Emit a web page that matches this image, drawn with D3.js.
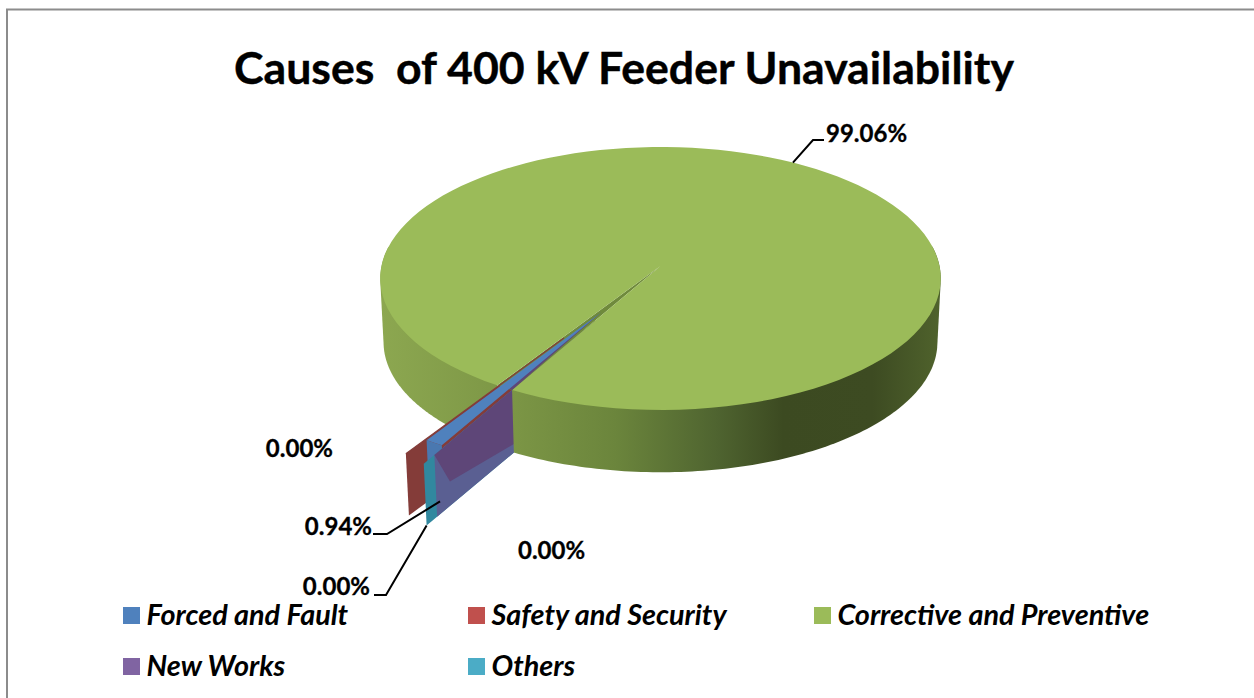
<!DOCTYPE html>
<html>
<head>
<meta charset="utf-8">
<script src="https://cdn.jsdelivr.net/npm/d3@7/dist/d3.min.js"></script>
<style>
html,body{margin:0;padding:0;background:#fff;overflow:hidden}
svg{display:block}
text{font-family:Lato,Carlito,Calibri,sans-serif;fill:#000;white-space:pre}
</style>
</head>
<body>
<div id="chart"></div>
<script>
// ---- data ----
const chartTitle = "Causes  of 400 kV Feeder Unavailability";
const causes = ["Forced and Fault", "Safety and Security", "Corrective and Preventive", "New Works", "Others"];
const shares = [0.94, 0, 99.06, 0, 0];
const colors = ["#4f81bd", "#c0504d", "#9bbb59", "#8064a2", "#4bacc6"];
const wallColors = ["#4a78b0", "#843c39", "#7b9444", "#5a5f92", "#31889f"];
const explode = [0.40, 0.50, 0, 0.46, 0.52];

// ---- layout ----
const W = 1254, H = 698;
const cx = 660.5, cy = 266, rx = 279, ry = 130.3, persp = 0.095, depth = 64, shrink = 0.012;
const rotation = 209.2 * Math.PI / 180;

const svg = d3.select("#chart").append("svg").attr("width", W).attr("height", H);
const defs = svg.append("defs");

const slices = d3.pie().value(d => d).sort(null)
  .startAngle(rotation).endAngle(rotation + 2 * Math.PI)(shares);

// project pie coordinates (radius, angle, explosion, height) on the screen
function project(r, a, e = 0, em = a, z = 0) {
  const u = r * Math.sin(a) + e * Math.sin(em);
  const v = -r * Math.cos(a) - e * Math.cos(em);
  const w = 1 - persp * v, s = 1 - shrink * z;
  return [cx + rx * u / w * s, cy + ry * v / w * s + depth * z];
}
const line = d3.line();
const arcAngles = (a0, a1) => d3.range(0, 121).map(i => a0 + (a1 - a0) * i / 120);
const poly = (pts, fill) => svg.append("path").attr("d", line(pts) + "Z").attr("fill", fill);

const [forced, safety, main, newWorks, others] = slices;
const fMid = (forced.startAngle + forced.endAngle) / 2;
// the safety wall is pushed out slightly toward the forced slice
const safetyDir = fMid + 0.6 * (safety.startAngle - fMid);

// green side wall with horizontal shading
const grad = defs.append("linearGradient").attr("id", "wallGrad")
  .attr("gradientUnits", "userSpaceOnUse")
  .attr("x1", cx - rx).attr("x2", cx + rx).attr("y1", 0).attr("y2", 0);
[[0, "#8ca750"], [0.22, "#7d9746"], [0.42, "#6b853c"], [0.6, "#4f6430"], [0.72, "#3c4a21"],
 [0.88, "#3d4b22"], [1, "#4f622c"]].forEach(s =>
  grad.append("stop").attr("offset", s[0]).attr("stop-color", s[1]));

function sideWall(a0, a1) {
  const as = arcAngles(a0, a1);
  const pts = as.map(a => project(1, a, 0, a, 0)).concat(as.map(a => project(1, a, 0, a, 1)));
  poly(d3.polygonHull(pts), "url(#wallGrad)");
}
const quarter = Math.PI / 2;
sideWall(main.startAngle, 3 * quarter + 0.15);        // left part of the rim

// radial wall of a zero-size exploded slice
const wall = (sl, i, dir = sl.startAngle) => poly([
  project(0, sl.startAngle, explode[i], dir, 0),
  project(1, sl.startAngle, explode[i], dir, 0),
  project(1, sl.startAngle, explode[i], dir, 1),
  project(0, sl.startAngle, explode[i], dir, 1)
], wallColors[i]);

wall(safety, 1, safetyDir);

// outer wall of the forced slice
{
  const as = arcAngles(forced.startAngle, forced.endAngle);
  poly(as.map(a => project(1, a, explode[0], fMid, 0))
    .concat(as.slice().reverse().map(a => project(1, a, explode[0], fMid, 1))), wallColors[0]);
}
wall(others, 4);
wall(newWorks, 3);

// darker overlap on the new-works wall
{
  const a = newWorks.startAngle, e = explode[3];
  poly([
    project(1, a, e, a, 0),
    project(0.92, a, e, a, 0.62),
    project(0.45, a, e, a, 0.92),
    project(0, a, e, a, 0.9),
    project(0, a, e, a, 0)
  ], "#5e4678");
}

sideWall(quarter - 0.15, forced.startAngle);          // right part of the rim

// gap in the green top
poly([project(0, 0)].concat(arcAngles(forced.startAngle, forced.endAngle).map(a => project(1, a))), "#6f8a3c");

// green top
poly([project(0, 0)].concat(arcAngles(main.startAngle, main.endAngle).map(a => project(1, a))), colors[2]);

// purple sliver seen through the gap
poly([project(0, fMid, explode[0], fMid), project(1, forced.startAngle), project(1, fMid)], "#5e4678");

// red sliver: the top edge of the safety wall
svg.append("path")
  .attr("d", line([project(0.12, safety.startAngle, explode[1], safetyDir),
                   project(1, safety.startAngle, explode[1], safetyDir)]))
  .attr("stroke", wallColors[1]).attr("stroke-width", 1.2).attr("fill", "none");

// blue exploded top
poly([project(0, fMid, explode[0], fMid)]
  .concat(arcAngles(forced.startAngle, forced.endAngle).map(a => project(1, a, explode[0], fMid))), colors[0]);

// frame
svg.append("path").attr("d", "M7,698V9.5H1254").attr("fill", "none")
  .attr("stroke", "#8c8c8c").attr("stroke-width", 2);

// title
svg.append("text").attr("x", 624).attr("y", 84).attr("text-anchor", "middle")
  .attr("font-size", 44.6).attr("font-weight", 700).attr("stroke", "#000").attr("stroke-width", 0.4).text(chartTitle);

// data labels
const pct = v => d3.format(".2f")(v) + "%";
const labelSpots = [
  {x: 372, y: 535, anchor: "end"},   // forced
  {x: 333, y: 457, anchor: "end"},   // safety
  {x: 826, y: 142, anchor: "start"}, // corrective
  {x: 518, y: 559, anchor: "start"}, // new works
  {x: 370, y: 595, anchor: "end"}    // others
];
slices.forEach((sl, i) => {
  svg.append("text").attr("x", labelSpots[i].x).attr("y", labelSpots[i].y)
    .attr("text-anchor", labelSpots[i].anchor)
    .attr("font-size", 24).attr("font-weight", 700).attr("stroke", "#000").attr("stroke-width", 0.3).text(pct(shares[i]));
});

// leader lines
const leader = pts => svg.append("path").attr("d", line(pts)).attr("fill", "none")
  .attr("stroke", "#000").attr("stroke-width", 2);
const mainMid = (main.startAngle + main.endAngle) / 2;
leader([project(1, mainMid), [813, 140], [824, 140]]);
leader([project(0.98, newWorks.startAngle, explode[3], newWorks.startAngle, 0.8), [387, 534], [373, 534]]);
leader([project(1, others.startAngle, explode[4], others.startAngle, 1), [386, 595], [374, 595]]);

// legend
const legendX = [123, 468, 814, 123, 468];
const legendY = [607, 607, 607, 658, 658];
causes.forEach((c, i) => {
  svg.append("rect").attr("x", legendX[i]).attr("y", legendY[i]).attr("width", 17).attr("height", 17).attr("fill", colors[i]);
  svg.append("text").attr("x", legendX[i] + 23.5).attr("y", legendY[i] + 18)
    .attr("font-size", 28.8).attr("font-weight", 700).attr("font-style", "italic").text(c);
});
</script>
</body>
</html>
